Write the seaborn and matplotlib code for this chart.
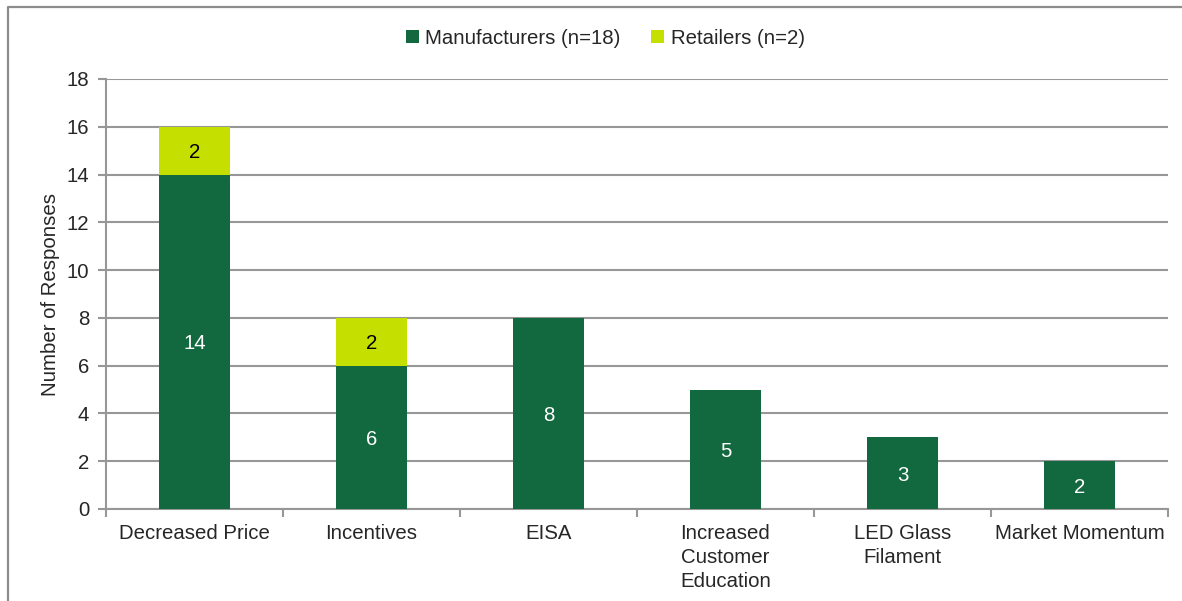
import matplotlib
matplotlib.use("Agg")
import matplotlib.pyplot as plt
from matplotlib.lines import Line2D
from matplotlib.patches import Patch
import seaborn as sns
import pandas as pd

categories = ["Decreased Price", "Incentives", "EISA",
              "Increased\nCustomer\nEducation", "LED Glass\nFilament", "Market Momentum"]
manufacturers = [14, 6, 8, 5, 3, 2]
retailers = [2, 2, 0, 0, 0, 0]
series_names = ["Manufacturers (n=18)", "Retailers (n=2)"]

DARK = "#13693F"
LIGHT = "#C5DF00"
GRID = "#979797"
FS = 14.7

sns.set_theme(style="white")
plt.rcParams["font.family"] = ["Liberation Sans", "DejaVu Sans"]
plt.rcParams["font.size"] = FS

df = pd.DataFrame({
    "category": categories,
    "manufacturers": manufacturers,
    "retailers": retailers,
})
df["total"] = df["manufacturers"] + df["retailers"]

fig = plt.figure(figsize=(11.82, 6.01), dpi=100)
ax = fig.add_axes([106 / 1182, 1 - 509 / 601, (1168 - 106) / 1182, (509 - 79) / 601])

# Stacked bars: the total in light green, manufacturers drawn on top
sns.barplot(data=df, x="category", y="total", color=LIGHT, width=0.4,
            saturation=1, ax=ax, zorder=3, linewidth=0)
sns.barplot(data=df, x="category", y="manufacturers", color=DARK, width=0.4,
            saturation=1, ax=ax, zorder=3, linewidth=0)

ax.set_ylim(0, 18)
ax.set_xlim(-0.5, len(categories) - 0.5)
ax.set_yticks(range(0, 19, 2))
ax.yaxis.grid(True, color=GRID, linewidth=1.5)
ax.set_axisbelow(True)

for s in ["top", "right"]:
    ax.spines[s].set_visible(False)
for s in ["left", "bottom"]:
    ax.spines[s].set_color(GRID)
    ax.spines[s].set_linewidth(1.5)

ax.set_xlabel("")
ax.set_ylabel("Number of Responses", fontsize=FS, labelpad=5)
ax.tick_params(axis="y", direction="out", length=6, width=1.5, color=GRID,
               labelsize=FS, pad=6, left=True)
ax.tick_params(axis="x", which="major", length=0, labelsize=FS, pad=11)
ax.set_xticks(range(len(categories)))
ax.set_xticklabels(categories, linespacing=1.32, va="top")
ax.set_xticks([i - 0.5 for i in range(len(categories) + 1)], minor=True)
ax.tick_params(axis="x", which="minor", direction="out", length=6, width=1.5,
               color=GRID, bottom=True)

# Segment value labels
for i, (m, r) in enumerate(zip(manufacturers, retailers)):
    if m > 0:
        ax.text(i, m / 2, str(m), ha="center", va="center_baseline", color="white",
                fontsize=FS, zorder=4)
    if r > 0:
        ax.text(i, m + r / 2, str(r), ha="center", va="center_baseline", color="black",
                fontsize=FS, zorder=4)

handles = [Patch(facecolor=DARK, edgecolor="none"), Patch(facecolor=LIGHT, edgecolor="none")]
fig.legend(handles, series_names, loc="center", bbox_to_anchor=(0.512, 1 - 38 / 601),
           ncol=2, frameon=False, fontsize=FS, handlelength=0.65, handleheight=0.65,
           handletextpad=0.3, columnspacing=1.5)

# Outer chart frame
fx = 7.5 / 1182
fy = 1 - 6.5 / 601
fig.add_artist(Line2D([fx, fx, 1.0], [0.0, fy, fy], transform=fig.transFigure,
                      color="#8c8c8c", linewidth=1.6))

fig.savefig("out.png", dpi=100)
